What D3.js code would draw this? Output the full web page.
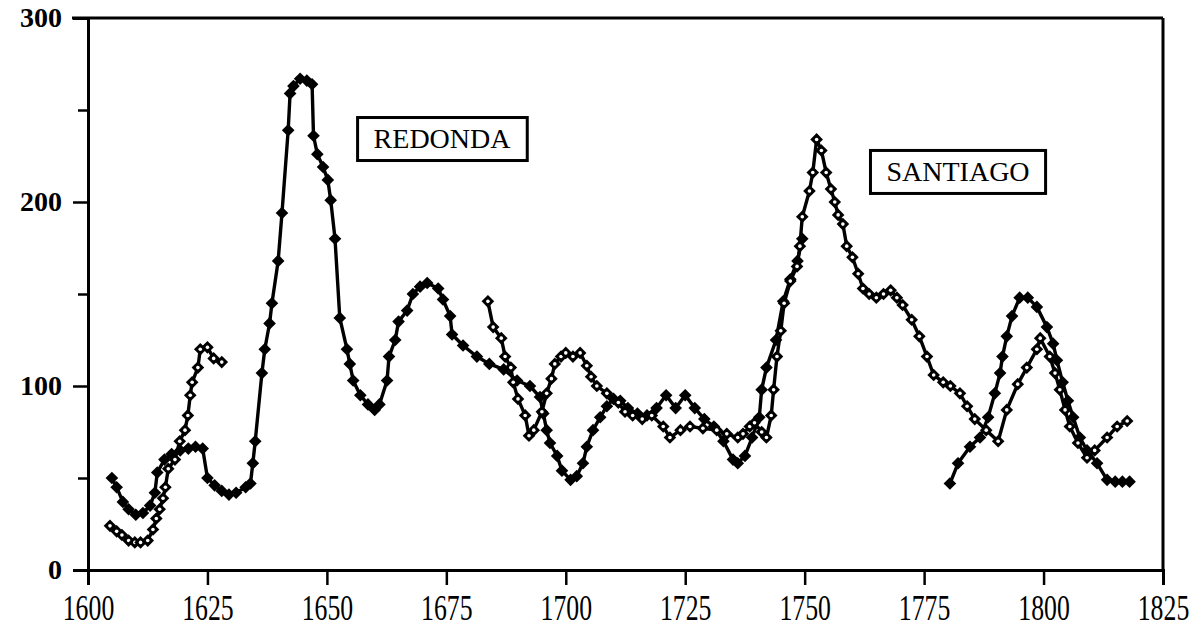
<!DOCTYPE html>
<html>
<head>
<meta charset="utf-8">
<script src="https://cdn.jsdelivr.net/npm/d3@7"></script>
<style>
  html, body { margin: 0; padding: 0; background: #fff; }
  svg { display: block; }
</style>
</head>
<body>
<svg id="chart" width="1203" height="635"></svg>
<script>
// ---- Data ----
const xTicks = [1600, 1625, 1650, 1675, 1700, 1725, 1750, 1775, 1800, 1825];
const yTicks = [0, 100, 200, 300];
const yMinorTicks = [50, 150, 250];

// Filled series (REDONDA), first run
const redondaYears1 = [1605, 1606, 1607.3, 1608.5, 1610, 1611.5, 1613, 1614, 1614.5, 1616, 1617.5, 1619.3, 1621, 1622.5, 1624, 1625, 1626.5, 1628, 1629.5, 1631, 1633, 1634, 1634.5, 1635, 1636.4, 1637, 1638, 1638.5, 1639.8, 1640.6, 1641.9, 1642.3, 1643, 1644.4, 1645.8, 1646.9, 1647.2, 1648, 1649.2, 1650.2, 1650.8, 1651.7, 1652.7, 1654.2, 1654.8, 1655.5, 1657, 1658.6, 1660, 1661, 1662.6, 1663, 1664.3, 1665, 1666.8, 1668, 1669.5, 1671, 1673.3, 1674.3, 1675.8, 1676.2, 1678.5, 1681.4, 1684, 1687, 1689.8, 1692.5, 1694.6, 1695.3, 1696, 1696.7, 1698.2, 1699.2, 1701, 1702.3, 1703.6, 1704.4, 1705.7, 1707.2, 1708.6, 1710, 1711.4, 1713, 1715, 1717, 1719, 1721, 1723, 1725, 1727, 1729, 1731, 1733, 1735, 1736, 1737.5, 1739, 1740.5, 1741, 1742, 1744, 1745.5, 1747, 1748.5, 1749.5];
const redondaValues1 = [50, 45, 37, 33, 30, 31, 35, 42, 53, 60, 63, 65, 66, 67, 66, 50, 46, 43, 41, 42, 45, 47, 58, 70, 107, 120, 134, 145, 168, 194, 239, 259, 263, 267, 266, 264, 236, 226, 219, 212, 201, 180, 137, 120, 112, 103, 95, 90, 87, 90, 103, 116, 125, 135, 141, 150, 154, 156, 153, 147, 138, 128, 122, 116, 112, 109, 103, 100, 94, 85, 76, 69, 62, 54, 49, 51, 58, 67, 76, 83, 89, 93, 92, 88, 85, 84, 88, 95, 88, 95, 88, 82, 78, 70, 60, 58, 62, 72, 83, 98, 110, 125, 146, 158, 168, 180];

// Filled series, second run
const redondaYears2 = [1780.4, 1782.1, 1784.6, 1786.7, 1788.4, 1789.8, 1790.9, 1791.4, 1792.3, 1793.4, 1795, 1796.7, 1798.6, 1800.7, 1802, 1802.8, 1804, 1805.1, 1806.2, 1807.6, 1809.1, 1811.2, 1813.3, 1815, 1816.5, 1818];
const redondaValues2 = [47, 58, 67, 72, 83, 96, 107, 116, 127, 138, 148, 148, 143, 132, 123, 114, 102, 92, 83, 72, 65, 58, 49, 48, 48, 48];

// Open series (SANTIAGO), first run
const santiagoYears1 = [1604.6, 1606, 1607.1, 1608.5, 1609.8, 1611, 1612.5, 1613.6, 1614.3, 1615, 1615.7, 1616.2, 1616.8, 1618.2, 1619.2, 1620.3, 1620.9, 1621.4, 1621.8, 1623, 1623.5, 1625, 1626.3, 1628];
const santiagoValues1 = [24, 21, 19, 16, 15, 15, 16, 22, 28, 33, 39, 45, 55, 60, 70, 76, 84, 95, 102, 110, 120, 121, 115, 113];

// Open series, second run
const santiagoYears2 = [1683.7, 1684.8, 1686.5, 1687.3, 1688.5, 1689, 1690, 1691.5, 1692.3, 1693.3, 1695, 1696, 1697, 1697.7, 1699, 1700, 1701.5, 1703, 1704.4, 1705.3, 1706.5, 1708.6, 1711, 1712.4, 1714, 1716, 1718, 1720.4, 1721.8, 1724, 1726, 1728.7, 1731.6, 1733.7, 1736, 1737.1, 1738.5, 1739.5, 1741, 1742, 1743, 1743.5, 1744.2, 1745, 1745.7, 1747, 1748.4, 1749, 1749.5, 1751, 1751.7, 1752.5, 1753.5, 1754.5, 1755.5, 1756.3, 1757, 1758, 1758.8, 1760, 1761.2, 1762.2, 1763.5, 1765, 1766.5, 1768, 1769.3, 1770.5, 1772.4, 1774, 1775.6, 1777, 1779, 1780.5, 1782.5, 1784, 1785.6, 1788, 1790.5, 1792.3, 1794.6, 1796.5, 1798.6, 1799.3, 1801.3, 1802.4, 1803.4, 1804.5, 1805.5, 1807.2, 1809.1, 1810.7, 1813.3, 1815.4, 1817.5];
const santiagoValues2 = [146, 132, 126, 116, 110, 102, 93, 84, 73, 76, 86, 96, 104, 112, 116, 118, 116, 118, 111, 105, 100, 96, 91, 86, 84, 82, 84, 78, 72, 76, 78, 77, 76, 74, 72, 74, 78, 80, 75, 72, 84, 98, 116, 130, 145, 157, 165, 176, 192, 206, 216, 234, 228, 216, 207, 200, 193, 188, 176, 170, 161, 153, 150, 148, 150, 152, 148, 144, 136, 127, 116, 106, 102, 100, 96, 89, 82, 76, 70, 87, 101, 110, 120, 126, 116, 107, 98, 87, 78, 69, 61, 65, 72, 78, 81];

const labels = [
  { text: "REDONDA", year: 1674.1, value: 234.5 },
  { text: "SANTIAGO", year: 1782.1, value: 216.6 }
];

// ---- Drawing ----
const svg = d3.select("#chart");
const x = d3.scaleLinear().domain([1600, 1825]).range([88, 1163]);
const y = d3.scaleLinear().domain([0, 300]).range([570, 18]);

const font = "'Liberation Serif', 'Times New Roman', serif";

// frame (top and right)
svg.append("line").attr("x1", x(1600) - 16).attr("x2", x(1825)).attr("y1", y(300)).attr("y2", y(300))
  .attr("stroke", "#000").attr("stroke-width", 3);
svg.append("line").attr("x1", x(1825)).attr("x2", x(1825)).attr("y1", y(300)).attr("y2", y(0))
  .attr("stroke", "#000").attr("stroke-width", 3);

// y axis
const yAxis = svg.append("g").attr("transform", `translate(${x(1600)},0)`)
  .call(d3.axisLeft(y).tickValues(yTicks).tickSize(15).tickPadding(11).tickFormat(d3.format("d")));
const yMinor = svg.append("g").attr("transform", `translate(${x(1600)},0)`)
  .call(d3.axisLeft(y).tickValues(yMinorTicks).tickSize(10).tickFormat(""));
[yAxis, yMinor].forEach(g => {
  g.select(".domain").attr("stroke", "#000").attr("stroke-width", 3);
  g.selectAll(".tick line").attr("stroke", "#000").attr("stroke-width", 2.5);
});
yAxis.selectAll(".tick text").attr("font-family", font).attr("font-weight", "bold")
  .attr("font-size", 28).attr("fill", "#000");

// x axis
const xAxis = svg.append("g").attr("transform", `translate(0,${y(0)})`)
  .call(d3.axisBottom(x).tickValues(xTicks).tickSize(15).tickPadding(12).tickFormat(d3.format("d")));
xAxis.select(".domain").attr("stroke", "#000").attr("stroke-width", 3);
xAxis.selectAll(".tick line").attr("stroke", "#000").attr("stroke-width", 2.5);
xAxis.selectAll(".tick text").attr("font-family", font).attr("font-size", 28).attr("fill", "#000")
  .attr("y", 0).attr("dy", 0)
  .attr("transform", "translate(0,50) scale(0.92,1.25)");
xAxis.selectAll(".tick").filter(d => d === 1600).append("line")
  .attr("y1", -6).attr("y2", 0).attr("stroke", "#000").attr("stroke-width", 2.5);

// series
const line = d3.line().x(d => x(d[0])).y(d => y(d[1]));
function zip(a, b) { return a.map((v, i) => [v, b[i]]); }

const runs = [
  { pts: zip(redondaYears1, redondaValues1), open: false },
  { pts: zip(redondaYears2, redondaValues2), open: false },
  { pts: zip(santiagoYears1, santiagoValues1), open: true },
  { pts: zip(santiagoYears2, santiagoValues2), open: true }
];

const marker = d3.symbol().type(d3.symbolSquare).size(80);

runs.forEach(r => {
  svg.append("path").datum(r.pts).attr("d", line)
    .attr("fill", "none").attr("stroke", "#000").attr("stroke-width", 3.4).attr("stroke-linejoin", "round");
});
runs.forEach(r => {
  const g = svg.append("g");
  const m = g.selectAll("g.m").data(r.pts).join("g").attr("class", "m")
    .attr("transform", d => `translate(${x(d[0])},${y(d[1])})`);
  m.append("path").attr("d", marker).attr("transform", "rotate(45)").attr("fill", "#000");
  if (r.open) m.append("circle").attr("r", 1.8).attr("fill", "#fff");
});

// labels in boxes
labels.forEach(l => {
  const g = svg.append("g").attr("transform", `translate(${x(l.year)},${y(l.value)})`);
  const t = g.append("text").text(l.text).attr("font-family", font).attr("font-size", 28)
    .attr("x", 0).attr("y", 0).attr("dy", "0.35em").attr("fill", "#000").attr("text-anchor", "middle");
  const bb = t.node().getBBox();
  g.insert("rect", "text").attr("x", bb.x - 16).attr("y", -21).attr("width", bb.width + 32).attr("height", 43)
    .attr("fill", "#fff").attr("stroke", "#000").attr("stroke-width", 3);
});
</script>
</body>
</html>
